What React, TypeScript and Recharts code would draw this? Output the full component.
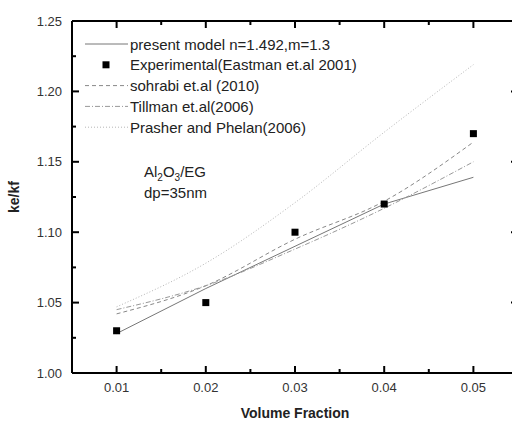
import React from "react";
import { ComposedChart, Line, Scatter, XAxis, YAxis } from "recharts";

const volumeFractions = [0.01, 0.02, 0.03, 0.04, 0.05];
const presentModel = [1.028, 1.06, 1.09, 1.12, 1.139];
const experimental = [1.03, 1.05, 1.1, 1.12, 1.17];
const sohrabi = [1.042, 1.062, 1.095, 1.122, 1.164];
const tillman = [1.045, 1.062, 1.088, 1.117, 1.15];
const prasher = [1.047, 1.078, 1.121, 1.171, 1.219];

const xTicks = [0.01, 0.015, 0.02, 0.025, 0.03, 0.035, 0.04, 0.045, 0.05];
const yTicks = [1.0, 1.025, 1.05, 1.075, 1.1, 1.125, 1.15, 1.175, 1.2, 1.225, 1.25];
const xDomain = [0.005, 0.055];
const yDomain = [1.0, 1.25];

const legendLabels = [
  "present model n=1.492,m=1.3",
  "Experimental(Eastman et.al 2001)",
  "sohrabi et.al (2010)",
  "Tillman et.al(2006)",
  "Prasher and Phelan(2006)",
];

const FONT = "Arial, 'Liberation Sans', sans-serif";

const data = volumeFractions.map((x, i) => ({
  x,
  present: presentModel[i],
  experimental: experimental[i],
  sohrabi: sohrabi[i],
  tillman: tillman[i],
  prasher: prasher[i],
}));

// line looks, same order as the legend
const styles = [
  { key: "present", stroke: "#777", dash: undefined, type: "linear" },
  { key: "experimental", stroke: "none", dash: undefined, type: "linear" },
  { key: "sohrabi", stroke: "#888", dash: "4 3", type: "monotone" },
  { key: "tillman", stroke: "#999", dash: "5 2 1 2", type: "monotone" },
  { key: "prasher", stroke: "#b5b5b5", dash: "1 2", type: "monotone" },
];

const frame = { stroke: "#000", strokeWidth: 2 };

const isMajor = (v: number, step: number) =>
  Math.abs(v / step - Math.round(v / step)) < 1e-6;

// ticks point inward on all four sides (Origin look)
function bottomTick({ x, y, payload }: any) {
  const major = isMajor(payload.value, 0.01);
  const len = major ? 7 : 4;
  return (
    <g key={`b${payload.value}`}>
      <path d={`M${x},${y}v${-len}`} stroke="#000" strokeWidth={2} fill="none" />
      {major ? (
        <text x={x} y={y + 19} textAnchor="middle" fontSize={13} fontFamily={FONT} fill="#333">
          {payload.value.toFixed(2)}
        </text>
      ) : null}
    </g>
  );
}

function topTick({ x, y, payload }: any) {
  const len = isMajor(payload.value, 0.01) ? 7 : 4;
  return <path key={`t${payload.value}`} d={`M${x},${y}v${len}`} stroke="#000" strokeWidth={2} fill="none" />;
}

function leftTick({ x, y, payload }: any) {
  const major = isMajor(payload.value, 0.05);
  const len = major ? 7 : 4;
  return (
    <g key={`l${payload.value}`}>
      <path d={`M${x},${y}h${len}`} stroke="#000" strokeWidth={2} fill="none" />
      {major ? (
        <text x={x - 10} y={y + 4.5} textAnchor="end" fontSize={13} fontFamily={FONT} fill="#333">
          {payload.value.toFixed(2)}
        </text>
      ) : null}
    </g>
  );
}

function rightTick({ x, y, payload }: any) {
  const len = isMajor(payload.value, 0.05) ? 7 : 4;
  return <path key={`r${payload.value}`} d={`M${x},${y}h${-len}`} stroke="#000" strokeWidth={2} fill="none" />;
}

function Square({ cx, cy }: any) {
  return <rect x={cx - 3.5} y={cy - 3.5} width={7} height={7} fill="#000" />;
}

function Annotations() {
  return (
    <svg
      width={512}
      height={423}
      style={{ position: "absolute", left: 0, top: 0, pointerEvents: "none" }}
      fontFamily={FONT}
    >
      {legendLabels.map((label, i) => {
        const cy = 44 + i * 20.8;
        const s = styles[i];
        return (
          <g key={label}>
            {s.key === "experimental" ? (
              <rect x={102.5} y={cy - 3.5} width={7} height={7} fill="#000" />
            ) : (
              <line x1={85} x2={128} y1={cy} y2={cy} stroke={s.stroke} strokeDasharray={s.dash} />
            )}
            <text x={130} y={cy + 5.5} fontSize={15} fill="#222">
              {label}
            </text>
          </g>
        );
      })}
      <text x={144} y={177} fontSize={15} fill="#222">
        Al<tspan dy={4} fontSize={10}>2</tspan>
        <tspan dy={-4}>O</tspan>
        <tspan dy={4} fontSize={10}>3</tspan>
        <tspan dy={-4}>/EG</tspan>
      </text>
      <text x={144} y={198} fontSize={15} fill="#222">
        dp=35nm
      </text>
    </svg>
  );
}

export default function App() {
  return (
    <div
      style={{
        position: "absolute",
        left: 0,
        top: 0,
        width: 512,
        height: 423,
        overflow: "hidden",
        background: "#fff",
      }}
    >
      {/* plot box ends at x=518, a little past the picture, as in the source */}
      <ComposedChart
        width={528}
        height={423}
        data={data}
        margin={{ top: 16, right: 0, bottom: 0, left: 10 }}
      >
        <XAxis
          xAxisId="b"
          dataKey="x"
          type="number"
          domain={xDomain}
          allowDataOverflow
          ticks={xTicks}
          interval={0}
          tickSize={0}
          tickMargin={0}
          tickLine={false}
          tick={bottomTick}
          axisLine={frame}
          stroke="#000"
          height={50}
          label={({ viewBox }: any) => (
            <text
              x={viewBox.x + viewBox.width / 2}
              y={viewBox.y + 45}
              textAnchor="middle"
              fontSize={14}
              fontWeight="bold"
              fontFamily={FONT}
              fill="#222"
            >
              Volume Fraction
            </text>
          )}
        />
        <XAxis
          xAxisId="t"
          orientation="top"
          dataKey="x"
          type="number"
          domain={xDomain}
          allowDataOverflow
          ticks={xTicks}
          interval={0}
          tickSize={0}
          tickMargin={0}
          tickLine={false}
          tick={topTick}
          axisLine={frame}
          stroke="#000"
          height={5}
        />
        <YAxis
          yAxisId="l"
          type="number"
          domain={yDomain}
          allowDataOverflow
          ticks={yTicks}
          interval={0}
          tickSize={0}
          tickMargin={0}
          tickLine={false}
          tick={leftTick}
          axisLine={frame}
          stroke="#000"
          width={62}
          label={({ viewBox }: any) => {
            const cx = viewBox.x + 9;
            const cy = viewBox.y + viewBox.height / 2;
            return (
              <text
                x={cx}
                y={cy}
                transform={`rotate(-90 ${cx} ${cy})`}
                textAnchor="middle"
                fontSize={14}
                fontWeight="bold"
                fontFamily={FONT}
                fill="#222"
              >
                ke/kf
              </text>
            );
          }}
        />
        <YAxis
          yAxisId="r"
          orientation="right"
          type="number"
          domain={yDomain}
          allowDataOverflow
          ticks={yTicks}
          interval={0}
          tickSize={0}
          tickMargin={0}
          tickLine={false}
          tick={rightTick}
          axisLine={frame}
          stroke="#000"
          width={10}
        />
        {styles
          .filter((s) => s.key !== "experimental")
          .map((s) => (
            <Line
              key={s.key}
              xAxisId="b"
              yAxisId="l"
              dataKey={s.key}
              type={s.type as any}
              stroke={s.stroke}
              strokeWidth={1}
              strokeDasharray={s.dash}
              dot={false}
              activeDot={false}
              isAnimationActive={false}
            />
          ))}
        {/* invisible series so the top and right axes share the data */}
        <Line
          xAxisId="t"
          yAxisId="r"
          dataKey="present"
          stroke="none"
          dot={false}
          activeDot={false}
          legendType="none"
          isAnimationActive={false}
        />
        <Scatter
          xAxisId="b"
          yAxisId="l"
          dataKey="experimental"
          shape={<Square />}
          isAnimationActive={false}
        />
      </ComposedChart>
      <Annotations />
    </div>
  );
}
